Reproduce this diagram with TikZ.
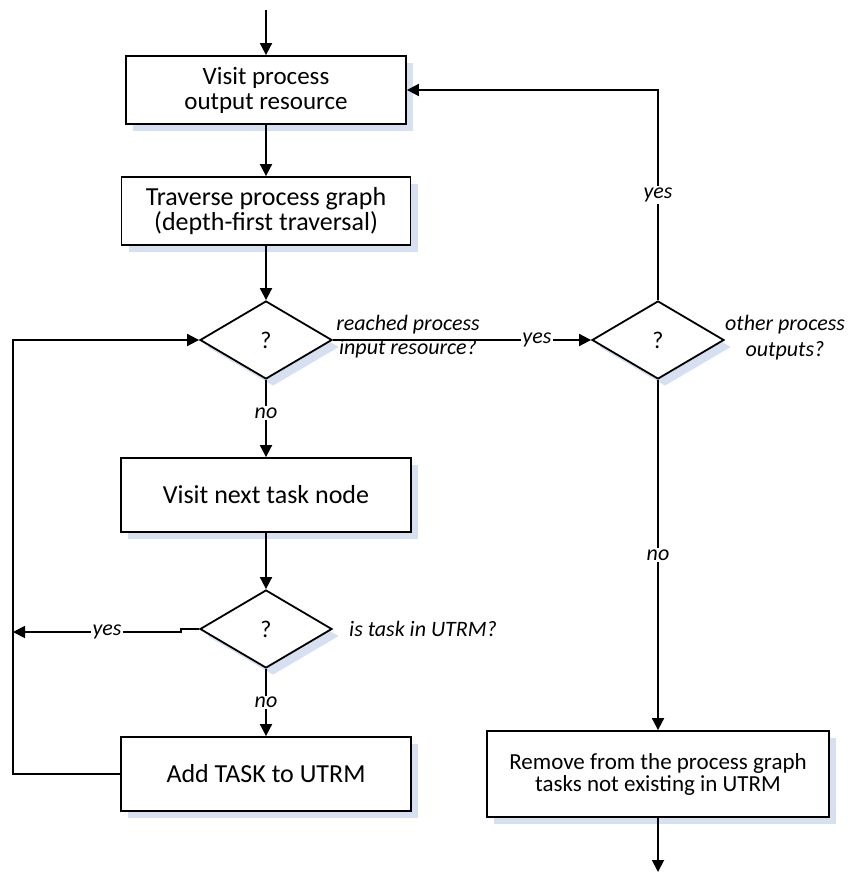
\documentclass[tikz,border=0pt]{standalone}
\usepackage{fontspec}
\setmainfont{Carlito}
\usetikzlibrary{shapes.geometric,arrows.meta,shadows}
\definecolor{shade}{HTML}{D6E0F0}
\begin{document}
\begin{tikzpicture}[x=1pt,y=-1pt,
  line width=1.8pt,
  font=\fontsize{26}{26}\selectfont,
  arr/.style={-{Triangle[length=12pt,width=12pt]}},
  boxshadow/.style={drop shadow={shadow xshift=7pt,shadow yshift=-7pt,fill=shade,opacity=1}},
  procbox/.style={draw,fill=white,align=center,inner sep=0pt,boxshadow},
  decision/.style={diamond,draw,fill=white,inner sep=0pt,minimum width=132pt,minimum height=78pt,boxshadow},
  lbl/.style={font=\itshape\fontsize{22}{24}\selectfont,align=center},
  onlbl/.style={lbl,fill=white,inner sep=1.5pt}]
\useasboundingbox (0,0) rectangle (849,872);

% process steps and decisions
\node[procbox,minimum width=280pt,minimum height=68pt,font=\fontsize{25}{25}\selectfont] (visit) at (266,90) {Visit process\\output resource};
\node[procbox,minimum width=289pt,minimum height=68pt,font=\fontsize{26}{25}\selectfont] (trav) at (266,211) {Traverse process graph\\(depth-first traversal)};
\node[decision,font=\fontsize{24}{24}\selectfont] (q1) at (266,340) {?};
\node[decision,font=\fontsize{24}{24}\selectfont] (q2) at (658,340) {?};
\node[procbox,minimum width=290pt,minimum height=74pt] (next) at (266,495) {Visit next task node};
\node[decision,font=\fontsize{24}{24}\selectfont] (q3) at (266,629) {?};
\node[procbox,minimum width=290pt,minimum height=74pt] (add) at (266,774) {Add TASK to UTRM};
\node[procbox,minimum width=342pt,minimum height=86pt,font=\fontsize{23}{22}\selectfont] (remove) at (658,774) {Remove from the process graph\\tasks not existing in UTRM};

% decision captions
\node[lbl] (l1) at (408,337) {reached process\\input resource?};
\node[lbl,font=\itshape\fontsize{22}{26}\selectfont] (l2) at (785,338) {other process\\outputs?};
\node[lbl,anchor=west] (l3) at (345,629) {is task in UTRM?};

% free ends and bends
\coordinate (start) at (266,10);
\coordinate (end) at (658,872);
\coordinate (loopbot) at (13,774);
\coordinate (looptop) at (13,340);
\coordinate (jog1) at (181,629);
\coordinate (jog2) at (181,632);
\coordinate (yesend) at (13,632);

% connectors
\draw[arr] (start) -- (visit);
\draw[arr] (visit) -- (trav);
\draw[arr] (trav) -- (q1);
\draw[arr] (q1) -- node[onlbl,pos=0.43] {no} (next);
\draw[arr] (q1.east) -- node[onlbl,pos=0.79] {yes} (q2.west);
\draw[arr] (q2.north) |- node[onlbl,pos=0.25] {yes} (visit.east);
\draw[arr] (q2) -- node[onlbl,pos=0.5] {no} (remove);
\draw[arr] (remove) -- (end);
\draw[arr] (next) -- (q3);
\draw[arr] (q3) -- node[onlbl,pos=0.5] {no} (add);
\draw[arr] (q3.west) -- (jog1) -- (jog2) -- node[onlbl,pos=0.44] {yes} (yesend);
\draw[arr] (add.west) -- (loopbot) -- (looptop) -- (q1.west);
\end{tikzpicture}
\end{document}
